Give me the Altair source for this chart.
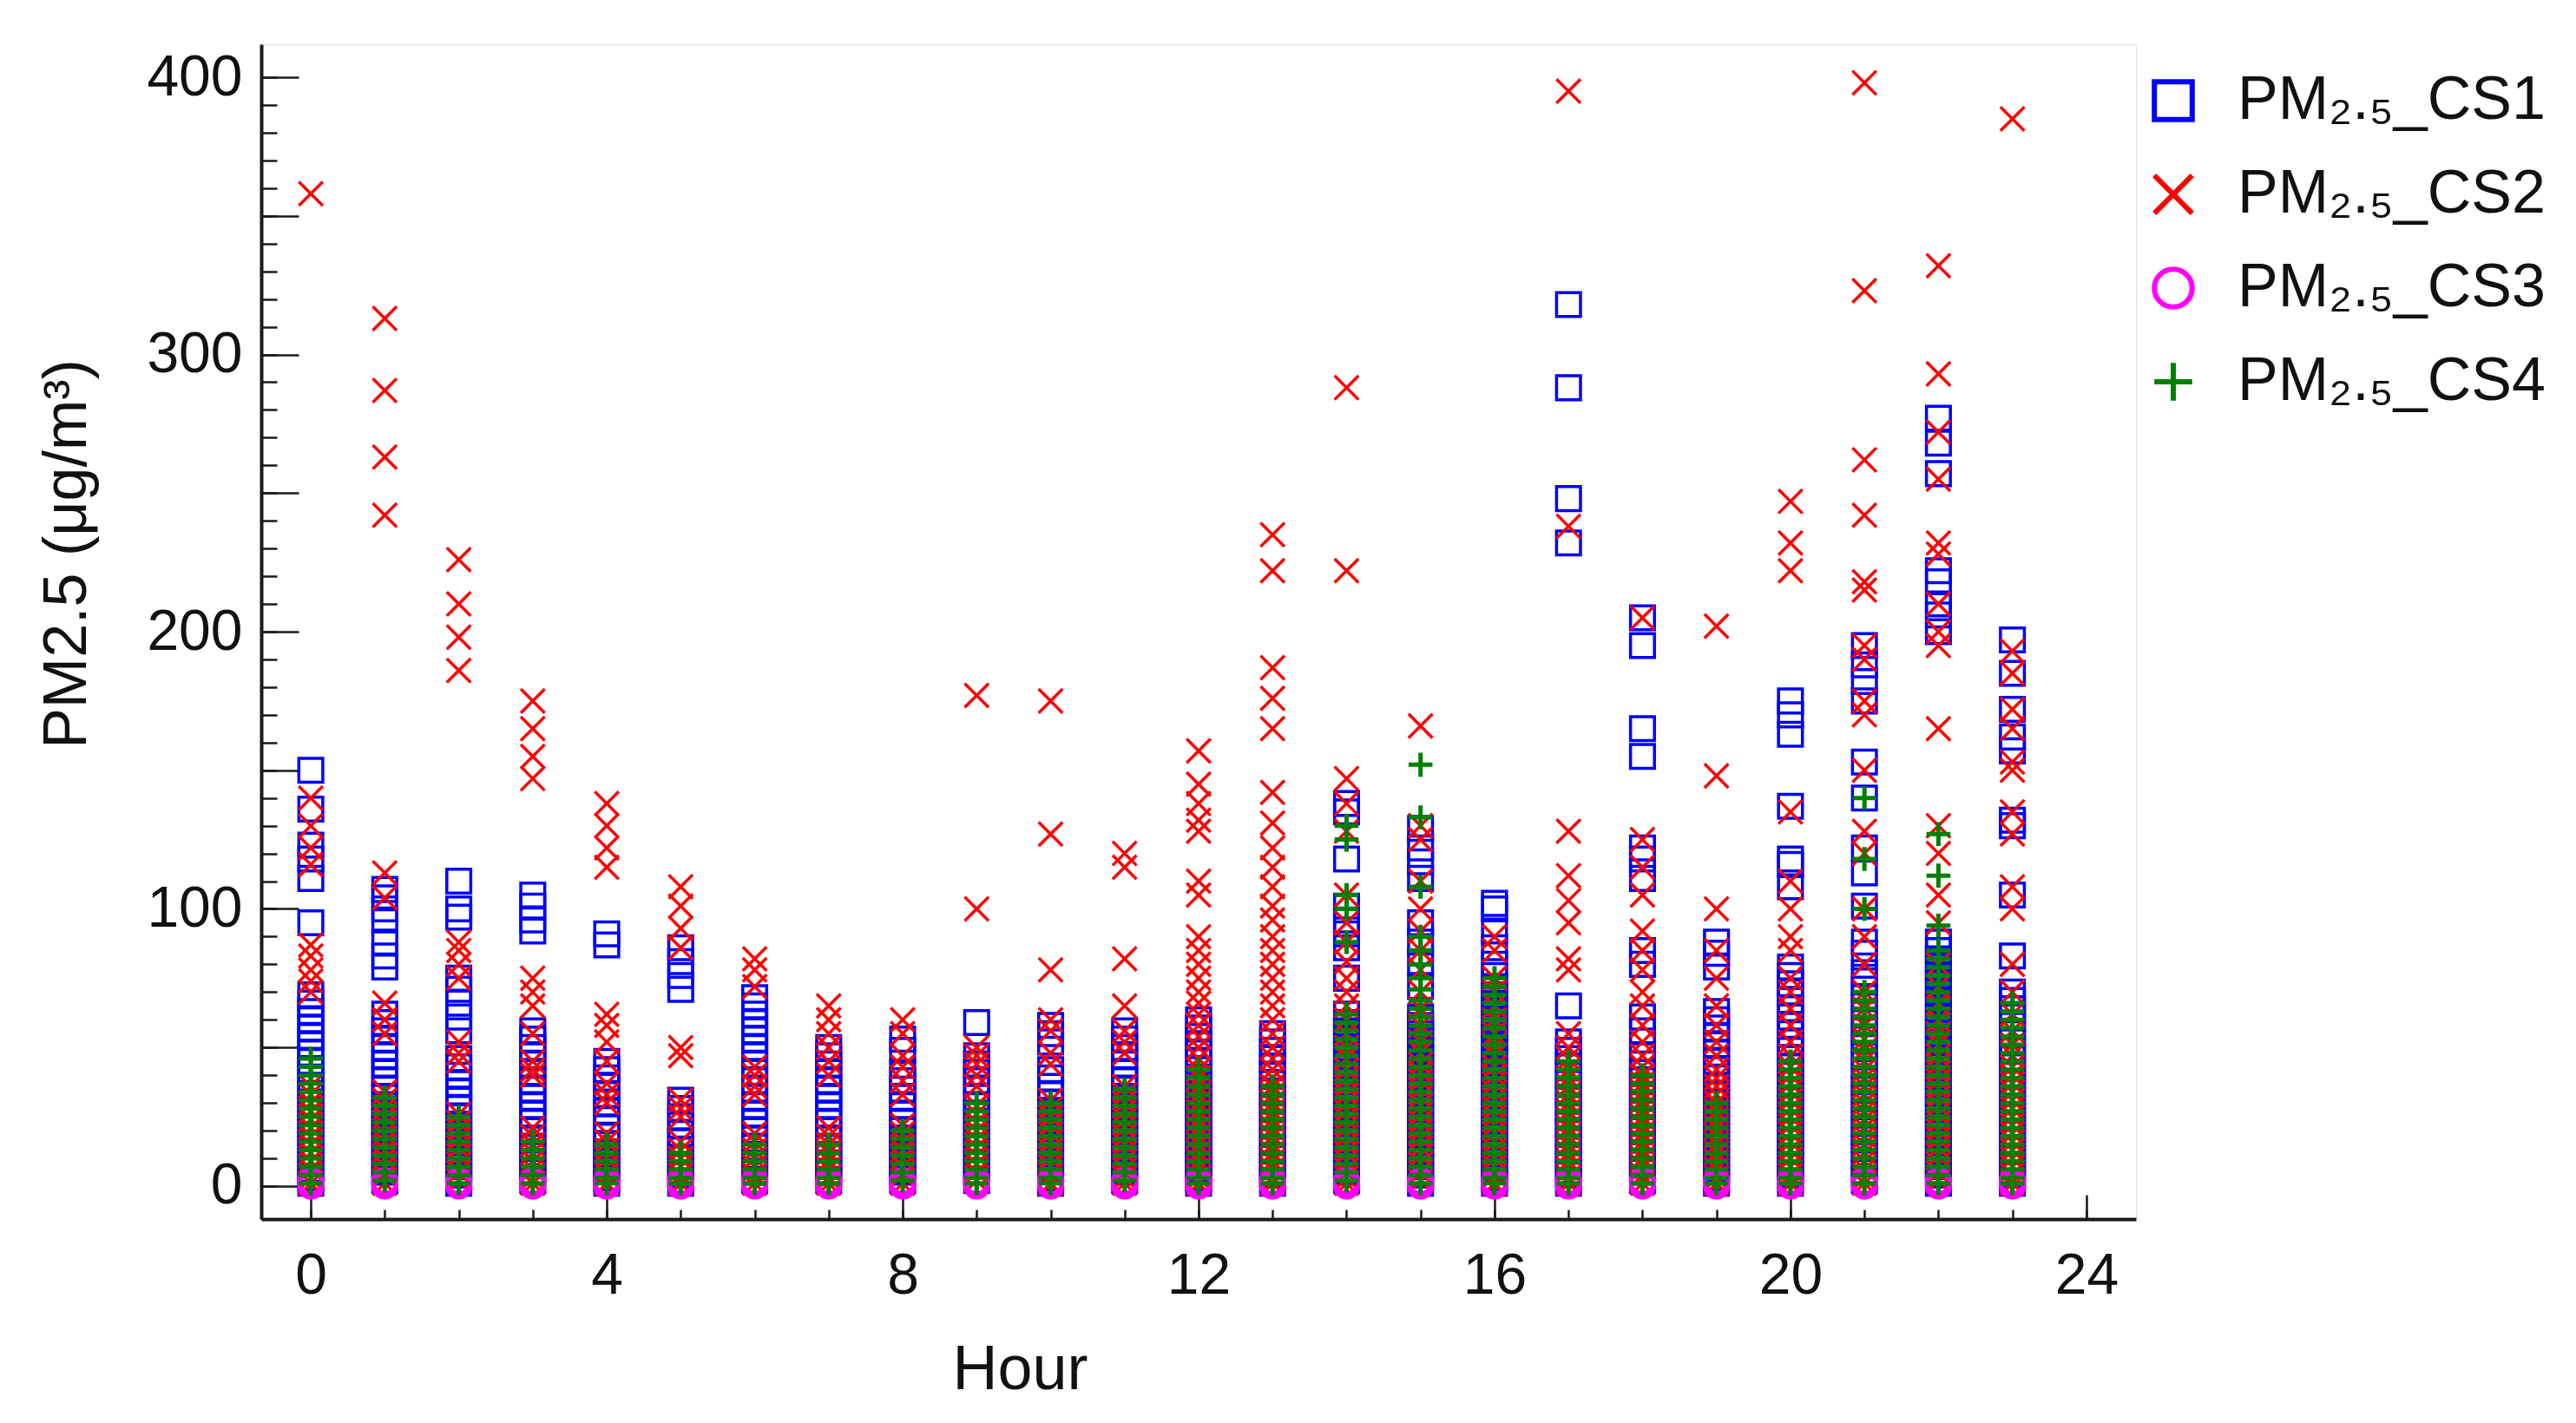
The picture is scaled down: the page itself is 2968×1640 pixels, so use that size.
import altair as alt
import pandas as pd

hours = list(range(24))
series_names = ["PM₂.₅_CS1", "PM₂.₅_CS2", "PM₂.₅_CS3", "PM₂.₅_CS4"]
series_colors = ["#0000FF", "#FF0000", "#FF00FF", "#008000"]
series_shapes = ["square", "M-1,-1L1,1M-1,1L1,-1", "circle", "M-1,0L1,0M0,-1L0,1"]

cs1 = [
    [150, 136, 123, 118, 111, 95, 69, 66, 63, 60, 57, 54, 51, 48, 45, 42, 39, 36, 33, 30, 27, 24, 21, 18, 15, 12, 9, 6, 3, 1],
    [107, 104, 100, 96, 88, 83, 79, 62, 59, 56, 53, 50, 47, 44, 41, 38, 35, 32, 29, 26, 23, 20, 17, 14, 11, 8, 5, 2],
    [110, 100, 97, 75, 71, 66, 61, 56, 46, 43, 40, 37, 34, 31, 28, 25, 22, 19, 16, 13, 10, 7, 4, 1],
    [105, 101, 96, 92, 56, 53, 50, 47, 44, 41, 38, 35, 32, 29, 26, 23, 20, 17, 14, 11, 8, 5, 2],
    [91, 87, 45, 42, 39, 36, 33, 30, 27, 24, 21, 18, 15, 12, 9, 6, 3, 1],
    [86, 81, 76, 71, 31, 28, 25, 22, 19, 16, 13, 10, 7, 4, 1],
    [68, 65, 62, 59, 56, 53, 50, 47, 44, 41, 38, 35, 32, 29, 26, 23, 20, 17, 14, 11, 8, 5, 2],
    [50, 47, 44, 41, 38, 35, 32, 29, 26, 23, 20, 17, 14, 11, 8, 5, 2],
    [53, 49, 41, 38, 35, 32, 29, 26, 23, 20, 17, 14, 11, 8, 5, 2],
    [59, 47, 44, 41, 38, 35, 32, 29, 26, 23, 20, 17, 14, 11, 8, 5, 2],
    [58, 55, 52, 42, 39, 36, 33, 30, 27, 24, 21, 18, 15, 12, 9, 6, 3, 1],
    [56, 53, 50, 47, 44, 41, 38, 35, 32, 29, 26, 23, 20, 17, 14, 11, 8, 5, 2],
    [60, 57, 54, 51, 48, 45, 42, 39, 36, 33, 30, 27, 24, 21, 18, 15, 12, 9, 6, 3, 1],
    [55, 52, 49, 46, 43, 40, 37, 34, 31, 28, 25, 22, 19, 16, 13, 10, 7, 4, 1],
    [138, 135, 118, 101, 96, 91, 86, 75, 62, 59, 56, 53, 50, 47, 44, 41, 38, 35, 32, 29, 26, 23, 20, 17, 14, 11, 8, 5, 2],
    [129, 122, 117, 111, 95, 88, 81, 72, 61, 58, 55, 52, 49, 46, 43, 40, 37, 34, 31, 28, 25, 22, 19, 16, 13, 10, 7, 4, 1],
    [102, 100, 92, 86, 80, 76, 72, 69, 66, 63, 60, 57, 54, 51, 48, 45, 42, 39, 36, 33, 30, 27, 24, 21, 18, 15, 12, 9, 6, 3, 1],
    [318, 288, 248, 232, 65, 52, 49, 46, 43, 40, 37, 34, 31, 28, 25, 22, 19, 16, 13, 10, 7, 4, 1],
    [205, 195, 165, 155, 122, 118, 111, 85, 80, 61, 56, 47, 44, 41, 38, 35, 32, 29, 26, 23, 20, 17, 14, 11, 8, 5, 2],
    [88, 84, 79, 63, 60, 57, 54, 51, 48, 45, 42, 39, 36, 33, 30, 27, 24, 21, 18, 15, 12, 9, 6, 3, 1],
    [175, 170, 163, 137, 118, 116, 108, 79, 76, 73, 70, 67, 64, 61, 58, 55, 52, 49, 46, 43, 40, 37, 34, 31, 28, 25, 22, 19, 16, 13, 10, 7, 4, 1],
    [195, 188, 182, 175, 153, 140, 122, 113, 101, 88, 84, 77, 74, 71, 68, 65, 62, 59, 56, 53, 50, 47, 44, 41, 38, 35, 32, 29, 26, 23, 20, 17, 14, 11, 8, 5, 2],
    [277, 268, 257, 222, 218, 210, 206, 200, 88, 85, 82, 79, 76, 73, 70, 67, 64, 61, 58, 55, 52, 49, 46, 43, 40, 37, 34, 31, 28, 25, 22, 19, 16, 13, 10, 7, 4, 1],
    [197, 185, 172, 162, 157, 132, 130, 105, 83, 70, 67, 64, 61, 58, 55, 52, 49, 46, 43, 40, 37, 34, 31, 28, 25, 22, 19, 16, 13, 10, 7, 4, 1],
]

cs2 = [
    [358, 140, 130, 122, 116, 87, 83, 78, 74, 70, 36, 33, 30, 27, 24, 21, 18, 15, 12, 9, 6, 3, 1],
    [313, 287, 263, 242, 113, 104, 66, 60, 55, 34, 31, 28, 25, 22, 19, 16, 13, 10, 7, 4, 1],
    [226, 210, 198, 186, 88, 85, 80, 75, 52, 48, 45, 26, 23, 20, 17, 14, 11, 8, 5, 2],
    [175, 165, 155, 147, 75, 70, 65, 55, 45, 42, 40, 21, 18, 15, 12, 9, 6, 3, 1],
    [138, 130, 122, 115, 62, 58, 52, 45, 37, 33, 30, 19, 16, 13, 10, 7, 4, 1],
    [108, 101, 93, 86, 50, 47, 31, 28, 25, 16, 13, 10, 7, 4, 1],
    [82, 78, 72, 43, 40, 36, 33, 19, 16, 13, 10, 7, 4, 1],
    [65, 60, 55, 50, 45, 40, 21, 18, 15, 12, 9, 6, 3, 1],
    [60, 55, 47, 43, 38, 33, 22, 19, 16, 13, 10, 7, 4, 1],
    [177, 100, 50, 47, 44, 40, 36, 29, 26, 23, 20, 17, 14, 11, 8, 5, 2],
    [175, 127, 78, 60, 56, 48, 44, 31, 28, 25, 22, 19, 16, 13, 10, 7, 4, 1],
    [120, 115, 82, 65, 56, 52, 48, 36, 33, 30, 27, 24, 21, 18, 15, 12, 9, 6, 3, 1],
    [157, 145, 138, 132, 128, 110, 105, 90, 85, 80, 75, 70, 66, 62, 58, 54, 50, 46, 42, 39, 36, 33, 30, 27, 24, 21, 18, 15, 12, 9, 6, 3, 1],
    [235, 222, 187, 176, 165, 142, 131, 122, 115, 108, 101, 96, 90, 85, 80, 75, 70, 65, 60, 55, 50, 46, 42, 39, 36, 33, 30, 27, 24, 21, 18, 15, 12, 9, 6, 3, 1],
    [288, 222, 147, 138, 128, 105, 95, 88, 81, 75, 70, 65, 60, 55, 50, 46, 42, 39, 36, 33, 30, 27, 24, 21, 18, 15, 12, 9, 6, 3, 1],
    [166, 130, 125, 110, 100, 92, 85, 78, 70, 64, 58, 52, 48, 44, 41, 38, 35, 32, 29, 26, 23, 20, 17, 14, 11, 8, 5, 2],
    [90, 85, 75, 70, 65, 60, 55, 51, 47, 43, 40, 37, 34, 31, 28, 25, 22, 19, 16, 13, 10, 7, 4, 1],
    [395, 238, 128, 112, 103, 95, 82, 78, 55, 50, 46, 42, 39, 36, 33, 30, 27, 24, 21, 18, 15, 12, 9, 6, 3, 1],
    [205, 125, 115, 105, 92, 85, 78, 70, 65, 58, 52, 47, 43, 40, 37, 34, 31, 28, 25, 22, 19, 16, 13, 10, 7, 4, 1],
    [202, 148, 100, 85, 75, 65, 58, 52, 47, 42, 39, 36, 33, 30, 27, 24, 21, 18, 15, 12, 9, 6, 3, 1],
    [247, 232, 222, 135, 110, 100, 90, 85, 75, 70, 64, 58, 52, 47, 43, 40, 37, 34, 31, 28, 25, 22, 19, 16, 13, 10, 7, 4, 1],
    [398, 323, 262, 242, 218, 215, 195, 190, 175, 170, 150, 128, 120, 100, 90, 80, 70, 64, 58, 53, 49, 45, 42, 39, 36, 33, 30, 27, 24, 21, 18, 15, 12, 9, 6, 3, 1],
    [332, 293, 272, 255, 232, 228, 210, 200, 195, 165, 130, 120, 105, 95, 80, 72, 66, 60, 55, 51, 47, 44, 41, 38, 35, 32, 29, 26, 23, 20, 17, 14, 11, 8, 5, 2],
    [385, 193, 185, 172, 165, 153, 150, 135, 127, 108, 100, 80, 70, 62, 56, 51, 47, 43, 40, 37, 34, 31, 28, 25, 22, 19, 16, 13, 10, 7, 4, 1],
]

cs3 = [[0, 1, 2] for _ in hours]

cs4 = [
    [46, 43, 40, 37, 34, 31, 28, 25, 22, 19, 16, 13, 10, 7, 4, 1],
    [32, 29, 26, 23, 20, 17, 14, 11, 8, 5, 2],
    [25, 22, 19, 16, 13, 10, 7, 4, 1],
    [16, 13, 10, 7, 4, 1],
    [15, 12, 9, 6, 3, 1],
    [12, 9, 6, 3, 1],
    [15, 12, 9, 6, 3, 1],
    [15, 12, 9, 6, 3, 1],
    [20, 17, 14, 11, 8, 5, 2],
    [30, 27, 24, 21, 18, 15, 12, 9, 6, 3, 1],
    [30, 27, 24, 21, 18, 15, 12, 9, 6, 3, 1],
    [35, 32, 29, 26, 23, 20, 17, 14, 11, 8, 5, 2],
    [42, 39, 36, 33, 30, 27, 24, 21, 18, 15, 12, 9, 6, 3, 1],
    [36, 33, 30, 27, 24, 21, 18, 15, 12, 9, 6, 3, 1],
    [130, 125, 105, 100, 88, 62, 59, 56, 53, 50, 47, 44, 41, 38, 35, 32, 29, 26, 23, 20, 17, 14, 11, 8, 5, 2],
    [152, 133, 108, 90, 85, 80, 75, 71, 67, 64, 61, 58, 55, 52, 49, 46, 43, 40, 37, 34, 31, 28, 25, 22, 19, 16, 13, 10, 7, 4, 1],
    [75, 72, 69, 66, 63, 60, 57, 54, 51, 48, 45, 42, 39, 36, 33, 30, 27, 24, 21, 18, 15, 12, 9, 6, 3, 1],
    [45, 42, 39, 36, 33, 30, 27, 24, 21, 18, 15, 12, 9, 6, 3, 1],
    [40, 37, 34, 31, 28, 25, 22, 19, 16, 13, 10, 7, 4, 1],
    [30, 27, 24, 21, 18, 15, 12, 9, 6, 3, 1],
    [45, 42, 39, 36, 33, 30, 27, 24, 21, 18, 15, 12, 9, 6, 3, 1],
    [140, 118, 100, 70, 67, 64, 61, 58, 55, 52, 49, 46, 43, 40, 37, 34, 31, 28, 25, 22, 19, 16, 13, 10, 7, 4, 1],
    [127, 112, 94, 85, 82, 79, 76, 73, 70, 67, 64, 61, 58, 55, 52, 49, 46, 43, 40, 37, 34, 31, 28, 25, 22, 19, 16, 13, 10, 7, 4, 1],
    [66, 63, 60, 57, 54, 51, 48, 45, 42, 39, 36, 33, 30, 27, 24, 21, 18, 15, 12, 9, 6, 3, 1],
]

x_major = [0, 4, 8, 12, 16, 20, 24]
x_minor = list(range(0, 25))
y_major = [0, 50, 100, 150, 200, 250, 300, 350, 400]
y_minor = list(range(0, 401, 10))

rows = []
for name, data in zip(series_names, [cs1, cs2, cs3, cs4]):
    for h, vals in zip(hours, data):
        for v in vals:
            rows.append({"Hour": h, "PM": v, "Series": name})
df = pd.DataFrame(rows)

FONT = "Liberation Sans"
INK = "#1a1a1a"
W, H = 2160, 1354
xs = alt.Scale(domain=[-0.67, 24.67], nice=False, zero=False)
ys = alt.Scale(domain=[-11.9, 411.9], nice=False, zero=False)

color_enc = alt.Color("Series:N", scale=alt.Scale(domain=series_names, range=series_colors),
                      legend=alt.Legend(title=None, orient="none", legendX=2168, legendY=30,
                                        labelFont=FONT, labelFontSize=70, labelColor="#111",
                                        labelLimit=1000,
                                        symbolSize=1900, symbolStrokeWidth=6, labelOffset=39,
                                        rowPadding=38, padding=0))
shape_enc = alt.Shape("Series:N", scale=alt.Scale(domain=series_names, range=series_shapes))

points = alt.Chart(df).transform_filter(
    alt.datum.Series != series_names[3]
).mark_point(filled=False, size=760, strokeWidth=3.5, opacity=1).encode(
    x=alt.X("Hour:Q", scale=xs, axis=alt.Axis(
        orient="bottom", values=x_major, ticks=True, tickSize=alt.ExprRef("-28"),
        tickWidth=2.5, tickColor=INK, domain=True, domainColor=INK,
        domainWidth=4, grid=False, labelFont=FONT, labelFontSize=66, labelColor="#111",
        labelPadding=61, labelBaseline="top", title="Hour", titleFont=FONT, titleFontSize=72,
        titleFontWeight="normal", titleColor="#111", titleX=874, titleY=195,
        titleBaseline="alphabetic", titleAlign="center", labelFlush=False)),
    y=alt.Y("PM:Q", scale=ys, axis=alt.Axis(
        orient="left", values=y_major, ticks=True, tickSize=alt.ExprRef("-43"),
        tickWidth=2.5, tickColor=INK, domain=True, domainColor=INK,
        domainWidth=4, grid=False, labelFont=FONT, labelFontSize=66, labelColor="#111",
        labelExpr="datum.value % 100 == 0 ? datum.label : ''",
        labelPadding=65, title="PM2.5 (μg/m³)", titleFont=FONT, titleFontSize=70,
        titleFontWeight="normal", titleColor="#111", titleAngle=270, titleX=-203, titleY=587,
        titleAlign="center", titleBaseline="alphabetic", labelFlush=False)),
    color=color_enc,
    shape=shape_enc,
)

points_cs4 = alt.Chart(df).transform_filter(
    alt.datum.Series == series_names[3]
).mark_point(filled=False, size=760, strokeWidth=5, opacity=1).encode(
    x=alt.X("Hour:Q", scale=xs, axis=None),
    y=alt.Y("PM:Q", scale=ys, axis=None),
    color=color_enc,
    shape=shape_enc,
)

minor_ticks = alt.Chart(df).mark_point(opacity=0).encode(
    x=alt.X("Hour:Q", scale=xs, axis=alt.Axis(
        orient="bottom", values=x_minor, labels=False, domain=False, grid=False,
        ticks=True, tickSize=alt.ExprRef("-11"), tickWidth=2.5, tickColor=INK, title=None)),
    y=alt.Y("PM:Q", scale=ys, axis=alt.Axis(
        orient="left", values=y_minor, labels=False, domain=False, grid=False,
        ticks=True, tickSize=alt.ExprRef("-18"), tickWidth=2.5, tickColor=INK, title=None)),
)

chart = alt.layer(points, points_cs4, minor_ticks).resolve_axis(
    x="independent", y="independent"
).properties(
    width=W, height=H,
    autosize=alt.AutoSizeParams(type="none"),
    padding={"left": 293, "top": 43, "right": 495, "bottom": 235},
).configure_view(stroke=None).configure(background="white")

chart.save("out.html", embed_options={"renderer": "svg", "actions": False})
